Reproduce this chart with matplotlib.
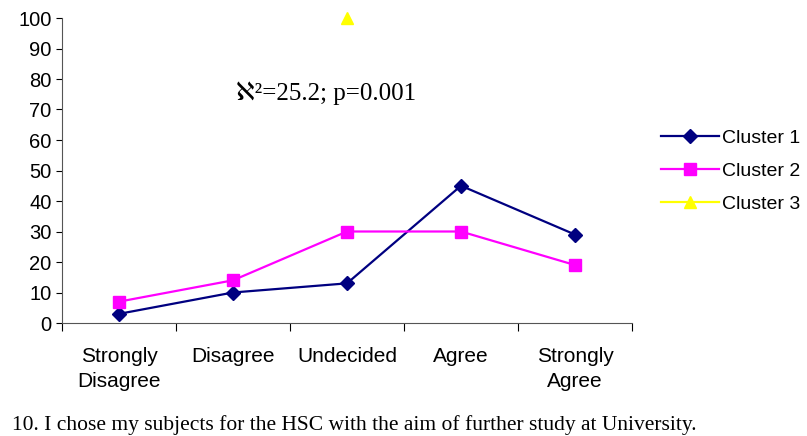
import matplotlib
matplotlib.use("Agg")
import matplotlib.pyplot as plt
import numpy as np

## data ##
categories = ["Strongly\nDisagree", "Disagree", "Undecided", "Agree", "Strongly\nAgree"]
cluster1 = [3, 10, 13, 45, 29]
cluster2 = [7, 14, 30, 30, 19]
cluster3_idx = [2]
cluster3 = [100]
yticks = list(range(0, 101, 10))

plt.rcParams['font.family'] = ['Liberation Sans', 'DejaVu Sans']

fig = plt.figure(figsize=(8.07, 4.36), dpi=100)
ax = fig.add_axes([62/807, 1-323/436, 570/807, 305/436])

x = np.arange(len(categories))
ax.plot(x, cluster1, color='#000080', lw=1.6, marker='D', ms=7.5, label='Cluster 1', clip_on=False)
ax.plot(x, cluster2, color='#FF00FF', lw=1.6, marker='s', ms=8.5, label='Cluster 2', clip_on=False)
ax.plot(cluster3_idx, cluster3, color='#FFFF00', lw=1.6, marker='^', ms=9, label='Cluster 3', clip_on=False)

ax.set_xlim(-0.5, len(categories) - 0.5)
ax.set_ylim(0, 100)
ax.set_yticks(yticks)
ax.tick_params(axis='y', labelsize=14.5, length=4, direction='out')

# ticks between categories, labels centered
ax.set_xticks(np.arange(-0.5, len(categories), 1.0))
ax.set_xticklabels([])
ax.set_xticks(x, minor=True)
ax.set_xticklabels(categories, minor=True, fontsize=15, linespacing=1.45)
ax.tick_params(axis='x', which='major', length=6, direction='out')
ax.tick_params(axis='x', which='minor', length=0, pad=17)

for s in ['top', 'right']:
    ax.spines[s].set_visible(False)
for s in ['left', 'bottom']:
    ax.spines[s].set_color('#555555')

ax.text(1.82, 75.5, "\u2135\u00b2=25.2; p=0.001", ha='center', va='center',
        fontsize=18, family=['Liberation Serif', 'DejaVu Sans'])

fig.legend(loc='center left', bbox_to_anchor=(643/807, 1-171/436), frameon=False,
           fontsize=14, handlelength=3, labelspacing=0.8, handletextpad=0.15)

fig.text(12/807, 1-425/436, "10. I chose my subjects for the HSC with the aim of further study at University.",
         fontsize=15.5, family=['Liberation Serif', 'DejaVu Serif'], va='center')

fig.savefig("out.png", dpi=100)
